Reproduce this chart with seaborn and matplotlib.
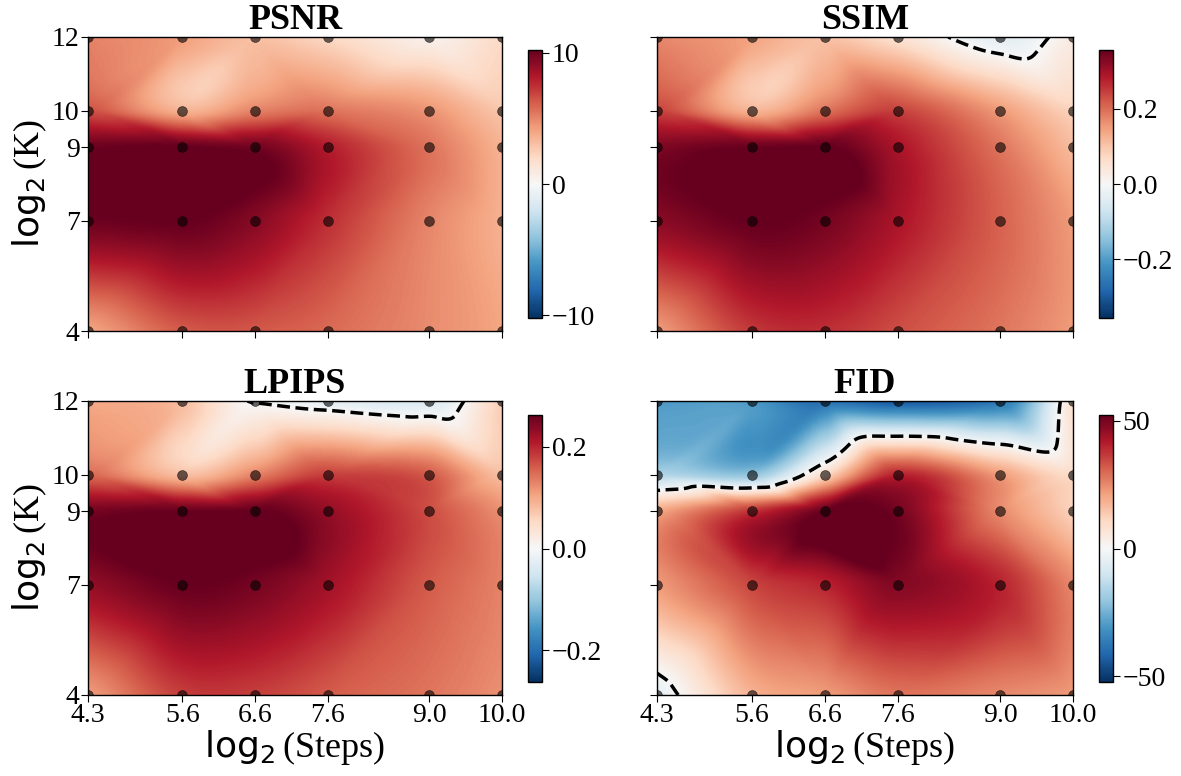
import numpy as np
import pandas as pd
import matplotlib
matplotlib.use('Agg')
import matplotlib.pyplot as plt
import matplotlib.tri as mtri
import seaborn as sns

# grid of measured settings
steps = [4.3, 5.6, 6.6, 7.6, 9.0, 10.0]
ks = [4, 7, 9, 10, 12]

# improvement values, one row per K (4, 7, 9, 10, 12), one column per step
psnr = [[4.0, 6.2, 6.3, 5.8, 4.8, 4.0],
        [10.0, 10.2, 9.3, 7.5, 5.0, 3.6],
        [10.0, 10.2, 9.8, 8.0, 5.5, 3.5],
        [6.5, 3.5, 5.0, 5.5, 4.5, 2.8],
        [5.0, 4.2, 3.0, 2.0, 0.5, 2.0]]
ssim = [[0.15, 0.25, 0.26, 0.23, 0.19, 0.15],
        [0.32, 0.355, 0.34, 0.29, 0.21, 0.15],
        [0.33, 0.35, 0.355, 0.29, 0.19, 0.11],
        [0.24, 0.12, 0.19, 0.24, 0.15, 0.08],
        [0.17, 0.14, 0.10, 0.05, -0.04, 0.03]]
lpips = [[0.11, 0.18, 0.18, 0.16, 0.14, 0.12],
         [0.23, 0.26, 0.25, 0.22, 0.16, 0.13],
         [0.25, 0.26, 0.262, 0.23, 0.17, 0.12],
         [0.15, 0.08, 0.13, 0.18, 0.16, 0.08],
         [0.10, 0.08, -0.003, -0.027, -0.037, 0.066]]
fid = [[-5, 18, 22, 28, 25, 22],
       [22, 35, 40, 48, 40, 25],
       [20, 38, 52.2, 50, 25, 12],
       [-16, -20, 10, 40, 22, 10],
       [-30, -30, -40, -45, -38, 9]]

metrics = ['PSNR', 'SSIM', 'LPIPS', 'FID']
values = [psnr, ssim, lpips, fid]
cbar_ticks = [[-10, 0, 10], [-0.2, 0.0, 0.2], [-0.2, 0.0, 0.2], [-50, 0, 50]]
cbar_fmt = ['{:.0f}', '{:.1f}', '{:.1f}', '{:.0f}']

sns.set_style('ticks')
plt.rcParams['font.family'] = ['Liberation Serif', 'DejaVu Serif']
plt.rcParams['mathtext.fontset'] = 'dejavusans'
plt.rcParams['xtick.labelsize'] = 20
plt.rcParams['ytick.labelsize'] = 20
for key in ['text.color', 'axes.labelcolor', 'xtick.color', 'ytick.color', 'axes.edgecolor']:
    plt.rcParams[key] = 'black'

W, H = 1181, 776
fig = plt.figure(figsize=(W / 100, H / 100), dpi=100)


def box(x0, y0, x1, y1):
    return [x0 / W, 1 - y1 / H, (x1 - x0) / W, (y1 - y0) / H]


ax_boxes = [box(88, 37, 502, 331), box(657, 37, 1073, 331),
            box(88, 401, 502, 695), box(657, 401, 1073, 695)]
cb_boxes = [box(528, 50, 542, 318), box(1099, 50, 1113, 318),
            box(528, 415, 542, 682), box(1099, 415, 1113, 682)]

X, Y = np.meshgrid(steps, ks)
tri = mtri.Triangulation(X.ravel(), Y.ravel())
xf = np.linspace(min(steps), max(steps), 400)
yf = np.linspace(min(ks), max(ks), 400)
XF, YF = np.meshgrid(xf, yf)

cmap = sns.color_palette('RdBu_r', as_cmap=True)

for i, (name, vals) in enumerate(zip(metrics, values)):
    Z = np.array(vals, dtype=float)
    vmax = np.abs(Z).max()
    interp = mtri.CubicTriInterpolator(tri, Z.ravel(), kind='geom')
    ZF = np.ma.filled(interp(XF, YF), np.nan)

    ax = fig.add_axes(ax_boxes[i])
    im = ax.imshow(ZF, extent=[min(steps), max(steps), min(ks), max(ks)],
                   origin='lower', aspect='auto', cmap=cmap,
                   vmin=-vmax, vmax=vmax, interpolation='bilinear')
    ax.contour(XF, YF, ZF, levels=[0], colors='k', linestyles='--', linewidths=2.5)

    pts = pd.DataFrame({'steps': X.ravel(), 'k': Y.ravel()})
    sns.scatterplot(data=pts, x='steps', y='k', ax=ax, color='black', alpha=0.6,
                    s=50, edgecolor='black', linewidth=0.5, legend=False, zorder=3)

    ax.set_xlim(min(steps), max(steps))
    ax.set_ylim(min(ks), max(ks))
    ax.set_xticks(steps)
    ax.set_yticks(ks)
    ax.set_title(name, fontsize=26, fontweight='bold', pad=4)
    if i >= 2:
        ax.set_xticklabels(['{:.1f}'.format(s) for s in steps])
        ax.set_xlabel(r'$\log_2$(Steps)', fontsize=26, labelpad=0)
    else:
        ax.set_xticklabels([])
        ax.set_xlabel('')
    if i % 2 == 0:
        ax.set_yticklabels([str(k) for k in ks])
        ax.set_ylabel(r'$\log_2$(K)', fontsize=26, labelpad=2)
    else:
        ax.set_yticklabels([])
        ax.set_ylabel('')
    ax.tick_params(length=5, pad=1)
    for sp in ax.spines.values():
        sp.set_linewidth(1.0)

    cax = fig.add_axes(cb_boxes[i])
    cb = fig.colorbar(im, cax=cax)
    cb.set_ticks(cbar_ticks[i])
    cb.set_ticklabels([cbar_fmt[i].format(t).replace('-', '\u2212') for t in cbar_ticks[i]])
    cb.ax.tick_params(labelsize=20, length=5, pad=2)
    cb.outline.set_linewidth(1.0)

fig.savefig('out.png', dpi=100)
